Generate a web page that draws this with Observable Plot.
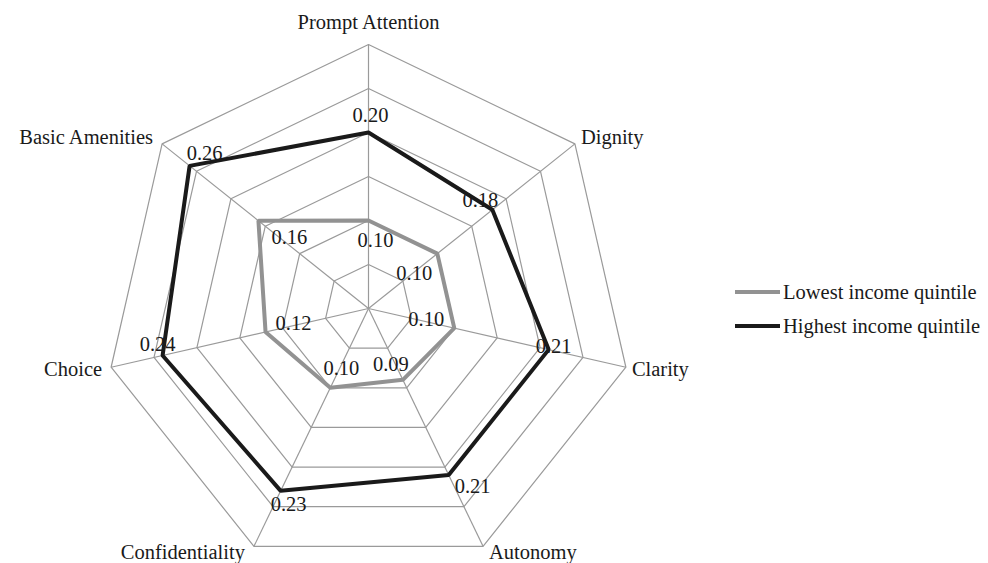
<!DOCTYPE html>
<html><head><meta charset="utf-8">
<script src="https://cdn.jsdelivr.net/npm/d3@7"></script>
<script src="https://cdn.jsdelivr.net/npm/@observablehq/plot@0.6"></script>
<style>
body{margin:0;background:#fff;}
#wrap{position:relative;width:988px;height:563px;font-family:"Liberation Serif","Times New Roman",serif;}
#legend{position:absolute;left:735px;top:275px;font-size:20.5px;color:#1a1a1a;}
.item{display:flex;align-items:center;height:34px;white-space:nowrap;}
.sw{width:45px;height:4px;margin-right:3px;}
</style></head><body><div id="wrap"><div id="chart"></div><div id="legend"></div></div>
<script>
// ---- data ----
const categories = ["Prompt Attention","Dignity","Clarity","Autonomy","Confidentiality","Choice","Basic Amenities"];
const seriesNames = ["Lowest income quintile","Highest income quintile"];
const lowest  = [0.10,0.10,0.10,0.09,0.10,0.12,0.16];
const highest = [0.20,0.18,0.21,0.21,0.23,0.24,0.26];
const ringLevels = [0.05,0.10,0.15,0.20,0.25,0.30];

// ---- layout config (pixels) ----
const lowNudge  = [[7,20],[-23,20],[-28,-9],[-12,-15],[11,-19],[28,-9],[31,17]];
const highNudge = [[2,-17],[-12,-9],[5,-3],[24,11],[8,14],[-5,-11],[15,-12]];
const colors = ["#929292","#1a1a1a"];

const W = 988, H = 563, CX = 368, CY = 308, PX = 880; // px per unit value
const n = categories.length;
const ang = i => i * 2 * Math.PI / n;
const px = (v, i) => v * Math.sin(ang(i));
const py = (v, i) => v * Math.cos(ang(i));
const maxV = d3.max(ringLevels);

const ringPts = ringLevels.flatMap(l => categories.map((c, i) => ({level: l, x: px(l, i), y: py(l, i)})));
const spokes = categories.map((c, i) => ({x2: px(maxV, i), y2: py(maxV, i)}));
const seriesVals = [lowest, highest];
const seriesPts = seriesVals.flatMap((vals, s) => vals.map((v, i) => ({series: seriesNames[s], x: px(v, i), y: py(v, i)})));
const nudges = [lowNudge, highNudge];
const labelPts = seriesVals.flatMap((vals, s) => vals.map((v, i) => ({
  text: d3.format(".2f")(v),
  x: px(v, i) + nudges[s][i][0] / PX,
  y: py(v, i) - nudges[s][i][1] / PX
})));
const catPts = categories.map((c, i) => {
  const s = Math.sin(ang(i)), co = Math.cos(ang(i));
  const anchor = Math.abs(s) < 1e-6 ? "middle" : (s > 0 ? "start" : "end");
  const dx = anchor === "middle" ? 0 : (s > 0 ? 6 : -9);
  const dy = anchor === "middle" ? -22 : (co < -0.5 ? 6 : -10 * co);
  return {name: c, anchor, x: px(maxV, i) + dx / PX, y: py(maxV, i) - dy / PX};
});

const font = '"Liberation Serif","Times New Roman",serif';
const chart = Plot.plot({
  width: W, height: H, margin: 0,
  x: {domain: [-CX / PX, (W - CX) / PX], range: [0, W], axis: null},
  y: {domain: [-(H - CY) / PX, CY / PX], range: [H, 0], axis: null},
  color: {domain: seriesNames, range: colors},
  style: {fontFamily: font, background: "#fff", overflow: "visible"},
  marks: [
    Plot.line(ringPts, {x: "x", y: "y", z: "level", curve: "linear-closed", stroke: "#9a9a9a", strokeWidth: 1.2}),
    Plot.link(spokes, {x1: 0, y1: 0, x2: "x2", y2: "y2", stroke: "#9a9a9a", strokeWidth: 1.2}),
    Plot.line(seriesPts, {x: "x", y: "y", z: "series", stroke: "series", curve: "linear-closed", strokeWidth: 4, strokeLinejoin: "miter"}),
    Plot.text(labelPts, {x: "x", y: "y", text: "text", fontSize: 20.5, fill: "#1a1a1a"}),
    ...["middle", "start", "end"].map(a => Plot.text(catPts.filter(d => d.anchor === a), {x: "x", y: "y", text: "name", textAnchor: a, fontSize: 20.5, fill: "#1a1a1a"}))
  ]
});
document.getElementById("chart").appendChild(chart);

const legend = document.getElementById("legend");
seriesNames.forEach((s, k) => {
  const it = document.createElement("div"); it.className = "item";
  const sw = document.createElement("div"); sw.className = "sw"; sw.style.background = colors[k];
  const tx = document.createElement("span"); tx.textContent = s;
  it.appendChild(sw); it.appendChild(tx); legend.appendChild(it);
});
</script>
</body></html>
